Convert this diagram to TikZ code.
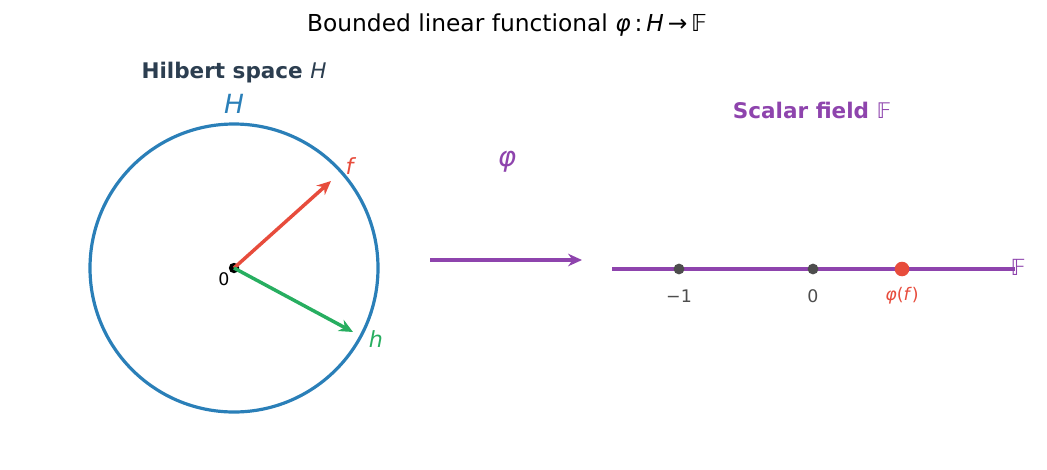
\documentclass[tikz,border=0pt]{standalone}
\usepackage{fontspec}
\setmainfont{DejaVu Sans}
\usetikzlibrary{arrows.meta}
\definecolor{cblue}{HTML}{2A7FB8}
\definecolor{cred}{HTML}{E74C3C}
\definecolor{cgreen}{HTML}{27AE60}
\definecolor{cpurple}{HTML}{8E44AD}
\definecolor{cdark}{HTML}{2C3E50}
\definecolor{cgray}{HTML}{4D4D4D}
\newcommand{\bbF}{\symbol{"1D53D}}
\begin{document}
\begin{tikzpicture}[x=0.72pt,y=-0.72pt,
  lbl/.style={inner sep=0pt, anchor=center},
  vec/.style={line width=2.5pt, -{Stealth[length=10pt,width=9pt]}},
  tickdot/.style={circle, fill=cgray, inner sep=0pt, minimum size=7.8pt},
  tlab/.style={lbl, font=\fontsize{12.5}{15}\selectfont, text=cgray}]
\useasboundingbox (0,0) rectangle (1047,469);
% title
\node[lbl, font=\fontsize{16.8}{20}\selectfont] (title) at (507,25) {Bounded linear functional \textit{φ}\,:\,\textit{H}\,→\,\bbF};
% left part
\node[lbl, font=\fontsize{15.5}{18}\selectfont\bfseries, text=cdark] (hs) at (234,73) {Hilbert space \textnormal{\textit{H}}};
\node[draw=cblue, line width=2.3pt, circle, minimum size=288*0.72pt, inner sep=0pt] (ball) at (234,268) {};
\node[lbl, font=\fontsize{19}{22}\selectfont, text=cblue] (Hl) at (234,104) {\textit{H}};
\node[circle, fill=black, inner sep=0pt, minimum size=7.5pt] (o) at (234,268) {};
\node[lbl, font=\fontsize{12.5}{15}\selectfont] (zero) at (224,279) {0};
\coordinate (fe) at (331,181);
\coordinate (he) at (353,332);
\draw[vec, cred] (o.center) -- (fe);
\draw[vec, cgreen] (o.center) -- (he);
\node[lbl, font=\fontsize{16}{19}\selectfont, text=cred] (fl) at (351,166) {\textit{f}};
\node[lbl, font=\fontsize{16}{19}\selectfont, text=cgreen] (hl) at (376,339) {\textit{h}};
% map arrow
\coordinate (ma) at (430,260);
\coordinate (mb) at (582,260);
\draw[vec, cpurple] (ma) -- (mb);
\node[lbl, font=\fontsize{20}{24}\selectfont, text=cpurple] (phi) at (507,162) {\textit{φ}};
% right part
\node[lbl, font=\fontsize{15.5}{18}\selectfont\bfseries, text=cpurple] (sf) at (812,110) {Scalar field \textnormal{\bbF}};
\coordinate (la) at (612,269);
\coordinate (lb) at (1015,269);
\draw[cpurple, line width=2.4pt] (la) -- (lb);
\node[tickdot] (m1) at (679,269) {};
\node[tickdot] (z0) at (813,269) {};
\node[circle, fill=cred, inner sep=0pt, minimum size=10.5pt] (pf) at (902,269) {};
\node[tlab] (m1l) at (679,296) {−1};
\node[tlab] (z0l) at (813,296) {0};
\node[tlab, text=cred] (pfl) at (902,296) {\textit{φ}(\textit{f})};
\node[lbl, font=\fontsize{16}{19}\selectfont, text=cpurple] (Fl) at (1018,267) {\bbF};
\end{tikzpicture}
\end{document}
